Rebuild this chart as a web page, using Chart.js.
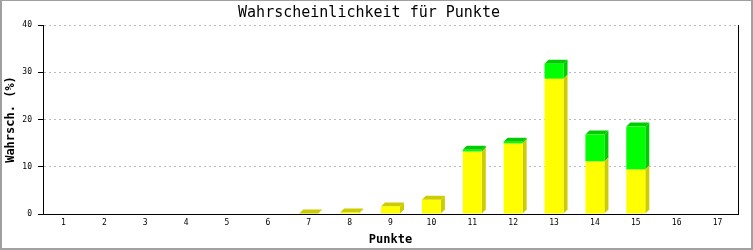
<!DOCTYPE html>
<html>
<head>
<meta charset="utf-8">
<script src="https://cdn.jsdelivr.net/npm/chart.js@4"></script>
<style>
  html, body { margin: 0; padding: 0; background: #fff; }
  #wrap { width: 753px; height: 250px; }
</style>
</head>
<body>
<div id="wrap"><canvas id="chart" width="753" height="250"></canvas></div>
<script>
var punkte = ["1", "2", "3", "4", "5", "6", "7", "8", "9", "10", "11", "12", "13", "14", "15", "16", "17"];
var gelb = [0, 0, 0, 0, 0, 0, 0.1, 0.3, 1.6, 3.0, 13.2, 14.9, 28.6, 11.1, 9.4, 0, 0];
var gruen = [0, 0, 0, 0, 0, 0, 0, 0, 0, 0, 0.4, 0.4, 3.2, 5.7, 9.1, 0, 0];
var yTicks = [0, 10, 20, 30, 40];

var DEPTH = 4;
var mono = "'DejaVu Sans Mono', monospace";

// fake 3d: side and top faces drawn before each dataset's front faces
var bar3d = {
    id: "bar3d",
    beforeDatasetDraw: function (chart, args) {
        var ctx = chart.ctx;
        var ds = chart.data.datasets[args.index];
        var all = chart.data.datasets;
        ctx.save();
        ctx.fillStyle = ds.sideColor;
        args.meta.data.forEach(function (bar, i) {
            if (!ds.data[i]) return;
            var p = bar.getProps(["x", "y", "base", "width"], true);
            var l = p.x - p.width / 2, r = p.x + p.width / 2;
            ctx.beginPath();
            ctx.moveTo(r, p.base);
            ctx.lineTo(r, p.y);
            ctx.lineTo(r + DEPTH, p.y - DEPTH);
            ctx.lineTo(r + DEPTH, p.base - DEPTH);
            ctx.closePath();
            ctx.fill();
            var onTop = true;
            for (var k = args.index + 1; k < all.length; k++) {
                if (all[k].data[i]) onTop = false;
            }
            if (onTop) {
                ctx.beginPath();
                ctx.moveTo(l, p.y);
                ctx.lineTo(l + DEPTH, p.y - DEPTH);
                ctx.lineTo(r + DEPTH, p.y - DEPTH);
                ctx.lineTo(r, p.y);
                ctx.closePath();
                ctx.fill();
            }
        });
        ctx.restore();
    },
    afterDraw: function (chart) {
        var ctx = chart.ctx, a = chart.chartArea;
        ctx.save();
        ctx.strokeStyle = "#000";
        ctx.lineWidth = 1;
        ctx.beginPath();
        ctx.moveTo(Math.round(a.right) + 0.5, a.top);
        ctx.lineTo(Math.round(a.right) + 0.5, a.bottom);
        ctx.stroke();
        // outer frame
        var w = chart.width, h = chart.height;
        ctx.fillStyle = "#a0a0a0";
        ctx.fillRect(0, 0, w, 1);
        ctx.fillRect(0, 0, 2, h);
        ctx.fillRect(w - 2, 0, 2, h);
        ctx.fillRect(0, h - 2, w, 2);
        ctx.restore();
    }
};

new Chart(document.getElementById("chart"), {
    type: "bar",
    data: {
        labels: punkte,
        datasets: [
            {
                label: "gelb",
                data: gelb,
                backgroundColor: "#ffff00",
                sideColor: "#cccc00",
                borderWidth: 0
            },
            {
                label: "gruen",
                data: gruen,
                backgroundColor: "#00ff00",
                sideColor: "#00cc00",
                borderWidth: 0
            }
        ]
    },
    options: {
        responsive: false,
        animation: false,
        events: [],
        layout: { padding: { left: 0, right: 15, top: 0, bottom: 0 } },
        datasets: { bar: { barPercentage: 0.465, categoryPercentage: 1 } },
        plugins: {
            legend: { display: false },
            tooltip: { enabled: false },
            title: {
                display: true,
                text: "Wahrscheinlichkeit für Punkte",
                color: "#000",
                font: { family: mono, size: 15, weight: "normal", lineHeight: 1.2 },
                padding: { top: 4, bottom: 3 }
            }
        },
        scales: {
            x: {
                stacked: true,
                grid: { display: false, drawTicks: false },
                border: { display: true, color: "#000", width: 1 },
                ticks: { color: "#000", font: { family: mono, size: 8 }, padding: 4, maxRotation: 0, autoSkip: false },
                title: {
                    display: true,
                    text: "Punkte",
                    color: "#000",
                    font: { family: mono, size: 12, weight: "bold", lineHeight: 1.2 },
                    padding: { top: 0, bottom: 3 }
                },
                afterFit: function (s) { s.height = 36; }
            },
            y: {
                stacked: true,
                min: 0,
                max: 40,
                afterBuildTicks: function (s) {
                    s.ticks = yTicks.map(function (v) { return { value: v }; });
                },
                grid: {
                    color: function (c) { return c.tick && c.tick.value === 0 ? "rgba(0,0,0,0)" : "#bbbbbb"; },
                    tickColor: "#000",
                    tickLength: 5,
                    tickBorderDash: []
                },
                border: { display: true, color: "#000", width: 1, dash: [2, 3] },
                ticks: { color: "#000", font: { family: mono, size: 8 }, padding: 6 },
                title: {
                    display: true,
                    text: "Wahrsch. (%)",
                    color: "#000",
                    font: { family: mono, size: 12, weight: "bold", lineHeight: 1.2 },
                    padding: { top: 4, bottom: 0 }
                },
                afterFit: function (s) { s.width = 43; }
            }
        }
    },
    plugins: [bar3d]
});
</script>
</body>
</html>
